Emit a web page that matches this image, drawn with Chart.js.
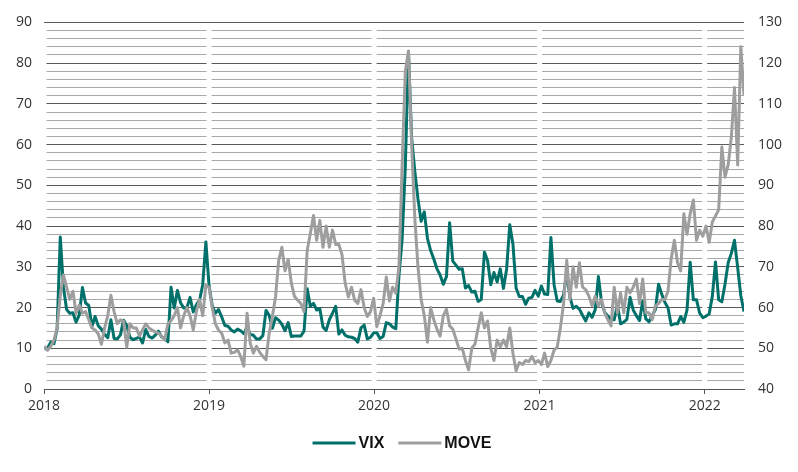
<!DOCTYPE html>
<html>
<head>
<meta charset="utf-8">
<script src="https://cdn.jsdelivr.net/npm/chart.js@4.4.1/dist/chart.umd.min.js"></script>
<style>
  html, body { margin: 0; padding: 0; background: #fff; }
</style>
</head>
<body>
<canvas id="chart" width="798" height="472"></canvas>
<script>
// weekly observations, first one on 2018-01-02
const startDate = "2018-01-02"
const yearTicks = [2018, 2019, 2020, 2021, 2022]

const vix = [
  // 2018
  9.8, 10.1, 11.5, 11.1, 14.8, 37.3, 25.0, 19.5, 18.6, 18.7,
  16.4, 18.2, 24.9, 21.1, 20.5, 15.3, 17.8, 15.5, 14.7, 13.4,
  12.6, 17.0, 12.4, 12.3, 13.3, 16.9, 15.6, 12.7, 12.1, 12.4,
  12.8, 11.3, 14.6, 12.9, 12.5, 13.2, 14.2, 12.8, 12.4, 11.6,
  25.0, 19.9, 24.2, 21.2, 19.9, 20.0, 22.5, 18.9, 20.7, 21.8,
  25.6, 36.1,
  // 2019
  25.4, 20.5, 18.6, 19.5, 17.7, 15.6, 15.4, 14.5, 14.0, 14.7,
  14.3, 13.6, 15.2, 13.4, 13.2, 12.3, 12.3, 13.1, 19.3, 18.1,
  14.9, 17.5, 16.9, 15.9, 14.3, 16.3, 12.9, 13.0, 13.0, 13.0,
  14.2, 24.6, 20.3, 21.0, 19.4, 19.7, 15.2, 14.4, 17.0, 18.6,
  20.3, 13.5, 14.5, 13.2, 12.8, 12.7, 12.4, 11.5, 15.0, 15.7,
  12.3, 12.7,
  // 2020
  13.8, 13.8, 12.4, 12.9, 16.3, 16.0, 15.2, 14.8, 27.9, 36.8,
  54.5, 82.7, 61.7, 53.5, 46.7, 41.2, 43.5, 37.0, 34.0, 31.9,
  29.5, 28.0, 25.7, 27.6, 40.8, 31.4, 30.4, 29.4, 29.5, 24.8,
  25.4, 23.8, 24.0, 21.5, 22.0, 33.6, 31.5, 25.6, 28.6, 26.3,
  29.5, 24.7, 29.4, 40.3, 35.6, 24.8, 22.7, 22.7, 20.8, 22.3,
  22.5, 24.2, 22.8,
  // 2021
  25.3, 23.3, 23.2, 37.2, 25.6, 21.6, 21.5, 23.1, 28.6, 22.6,
  19.8, 20.3, 19.6, 18.1, 16.7, 18.7, 17.6, 19.5, 27.6, 21.3,
  18.8, 17.9, 17.1, 17.0, 20.7, 16.0, 16.4, 17.1, 22.5, 19.4,
  18.0, 16.8, 21.6, 17.2, 16.5, 18.0, 19.5, 25.7, 23.3, 21.3,
  19.9, 15.7, 16.0, 16.0, 17.8, 16.4, 19.4, 31.1, 21.9, 21.9,
  18.6, 17.5,
  // 2022
  17.9, 18.4, 22.8, 31.2, 21.9, 21.4, 25.7, 31.0, 33.3, 36.5,
  29.8, 22.9, 19.0,
]

const move = [
  // 2018
  50.5, 49.5, 50.5, 52, 55, 63, 68, 65, 62, 64,
  58.6, 60.6, 58.6, 59, 57, 55, 54.5, 53.5, 51, 55,
  58, 63, 59, 56, 57, 56.6, 50.3, 56, 55, 55,
  53, 54.5, 56, 55, 54.5, 54, 53.7, 53, 52, 56,
  56.8, 58, 60, 55, 58, 60, 58, 54.5, 59, 62,
  58, 65.5,
  // 2019
  65, 60, 56, 54.5, 53.7, 51.3, 52, 48.8, 49, 49.6,
  48, 45.6, 58.6, 51.3, 48.8, 50.5, 49, 48, 47.2, 53.7,
  57.8, 62.6, 71.6, 74.8, 69, 71.8, 66, 62.7, 61.8, 61,
  59, 74, 78.2, 82.6, 76.5, 81.4, 74.8, 80, 74.8, 79,
  75.5, 75.5, 73, 66, 62.6, 65, 61.8, 61, 64.4, 60,
  57.8, 59,
  // 2020
  62.3, 55.3, 58, 61, 67.5, 61.6, 65, 63.5, 70, 95,
  118, 123, 100, 82, 70, 62, 58, 51.5, 60, 57,
  54.7, 53, 58, 59.6, 55.5, 54.7, 52.3, 49.8, 50, 47,
  44.7, 50, 51, 55, 58.7, 55, 56.7, 50, 47, 52,
  50.4, 52, 50.4, 55, 48.8, 44.5, 46.5, 46, 47, 46.7,
  48, 46.4, 47,
  // 2021
  46, 48.8, 45.5, 47, 49.5, 50.3, 55, 61, 71.6, 62,
  70, 65, 71, 65, 64.4, 62.8, 60.4, 62.8, 60.4, 62,
  58.7, 57, 55.5, 65, 58.7, 63.6, 58.7, 65, 63.6, 65,
  67, 61, 67, 58.7, 58.7, 57, 60.4, 61, 62, 62,
  64, 72, 76.5, 71, 69, 83, 78, 83, 86.4, 76.5,
  79, 77.5,
  // 2022
  80, 76, 81, 82.5, 84, 99.4, 92, 95, 101.8, 114,
  95, 124, 112,
]

const vixColor = "#00716a"
const moveColor = "#9e9e9e"
const DAY = 864e5
const origin = Date.UTC(2018, 0, 1)

function dayOf(dateMs) {
  return Math.round((dateMs - origin) / DAY)
}

const firstDay = dayOf(Date.parse(startDate))
const days = vix.map((_, i) => firstDay + i * 7)
const yearDays = yearTicks.map((y) => dayOf(Date.UTC(y, 0, 1)))

// white breaks in the grid at each new year
const yearBreaks = {
  id: "yearBreaks",
  beforeDatasetsDraw(chart) {
    const { ctx, chartArea, scales } = chart
    ctx.save()
    ctx.fillStyle = "#fff"
    yearDays.forEach((d) => {
      const px = scales.x.getPixelForValue(d)
      ctx.fillRect(px - 2.5, chartArea.top + 2, 5, chartArea.bottom - chartArea.top - 3)
    })
    ctx.restore()
  },
}

// legend drawn under the axis
const bottomLegend = {
  id: "bottomLegend",
  afterDraw(chart) {
    const { ctx } = chart
    const swatch = 43
    const gap = 3
    const spacing = 14
    const y = 443
    ctx.save()
    ctx.font = 'bold 16px "Liberation Sans Narrow", "Arial Narrow", sans-serif'
    ctx.textBaseline = "middle"
    const items = chart.data.datasets.map((ds) => ({
      label: ds.label,
      color: ds.borderColor,
      w: ctx.measureText(ds.label).width,
    }))
    const total = items.reduce((s, it) => s + swatch + gap + it.w, 0) + spacing * (items.length - 1)
    let x = 402 - total / 2
    items.forEach((it) => {
      ctx.fillStyle = it.color
      ctx.fillRect(x, y - 1.5, swatch, 3)
      x += swatch + gap
      ctx.fillStyle = "#111"
      ctx.fillText(it.label, x, y + 1)
      x += it.w + spacing
    })
    ctx.restore()
  },
}

const tickFont = { family: '"Open Sans", "Noto Sans", sans-serif', size: 14 }

new Chart(document.getElementById("chart"), {
  type: "line",
  data: {
    datasets: [
      {
        label: "VIX",
        data: days.map((d, i) => ({ x: d, y: vix[i] })),
        borderColor: vixColor,
        backgroundColor: vixColor,
        borderWidth: 3,
        borderJoinStyle: "round",
        pointRadius: 0,
        tension: 0,
        yAxisID: "y",
        order: 2,
      },
      {
        label: "MOVE",
        data: days.map((d, i) => ({ x: d, y: move[i] })),
        borderColor: moveColor,
        backgroundColor: moveColor,
        borderWidth: 3,
        borderJoinStyle: "round",
        pointRadius: 0,
        tension: 0,
        yAxisID: "y1",
        order: 1,
      },
    ],
  },
  options: {
    responsive: false,
    animation: false,
    layout: { padding: { top: 22, left: 0, right: 0, bottom: 53 } },
    plugins: {
      legend: { display: false },
      tooltip: { enabled: false },
    },
    scales: {
      x: {
        type: "linear",
        min: 0,
        max: days[days.length - 1],
        afterBuildTicks: (scale) => {
          scale.ticks = yearDays.map((d) => ({ value: d }))
        },
        afterFit: (scale) => {
          scale.height = 30
        },
        ticks: {
          autoSkip: false,
          maxRotation: 0,
          padding: 4,
          color: "#333",
          font: tickFont,
          callback: (value) => yearTicks[yearDays.indexOf(value)],
        },
        grid: {
          drawOnChartArea: false,
          drawTicks: true,
          tickLength: 5,
          color: "#555",
        },
        border: { display: true, color: "#555", width: 1 },
      },
      y: {
        position: "left",
        min: 0,
        max: 90,
        afterFit: (scale) => {
          scale.width = 44
        },
        ticks: {
          stepSize: 2,
          autoSkip: false,
          padding: 12,
          color: "#333",
          font: tickFont,
          callback: (value) => (value % 10 === 0 ? value : ""),
        },
        grid: {
          drawTicks: false,
          color: (ctx) => (ctx.tick.value % 10 === 0 ? "#5a5a5a" : "#a8a8a8"),
          lineWidth: 1,
        },
        border: { display: false },
      },
      y1: {
        position: "right",
        min: 40,
        max: 130,
        afterFit: (scale) => {
          scale.width = 54
        },
        ticks: {
          stepSize: 10,
          padding: 14,
          color: "#333",
          font: tickFont,
        },
        grid: { display: false, drawTicks: false },
        border: { display: false },
      },
    },
  },
  plugins: [yearBreaks, bottomLegend],
})
</script>
</body>
</html>
